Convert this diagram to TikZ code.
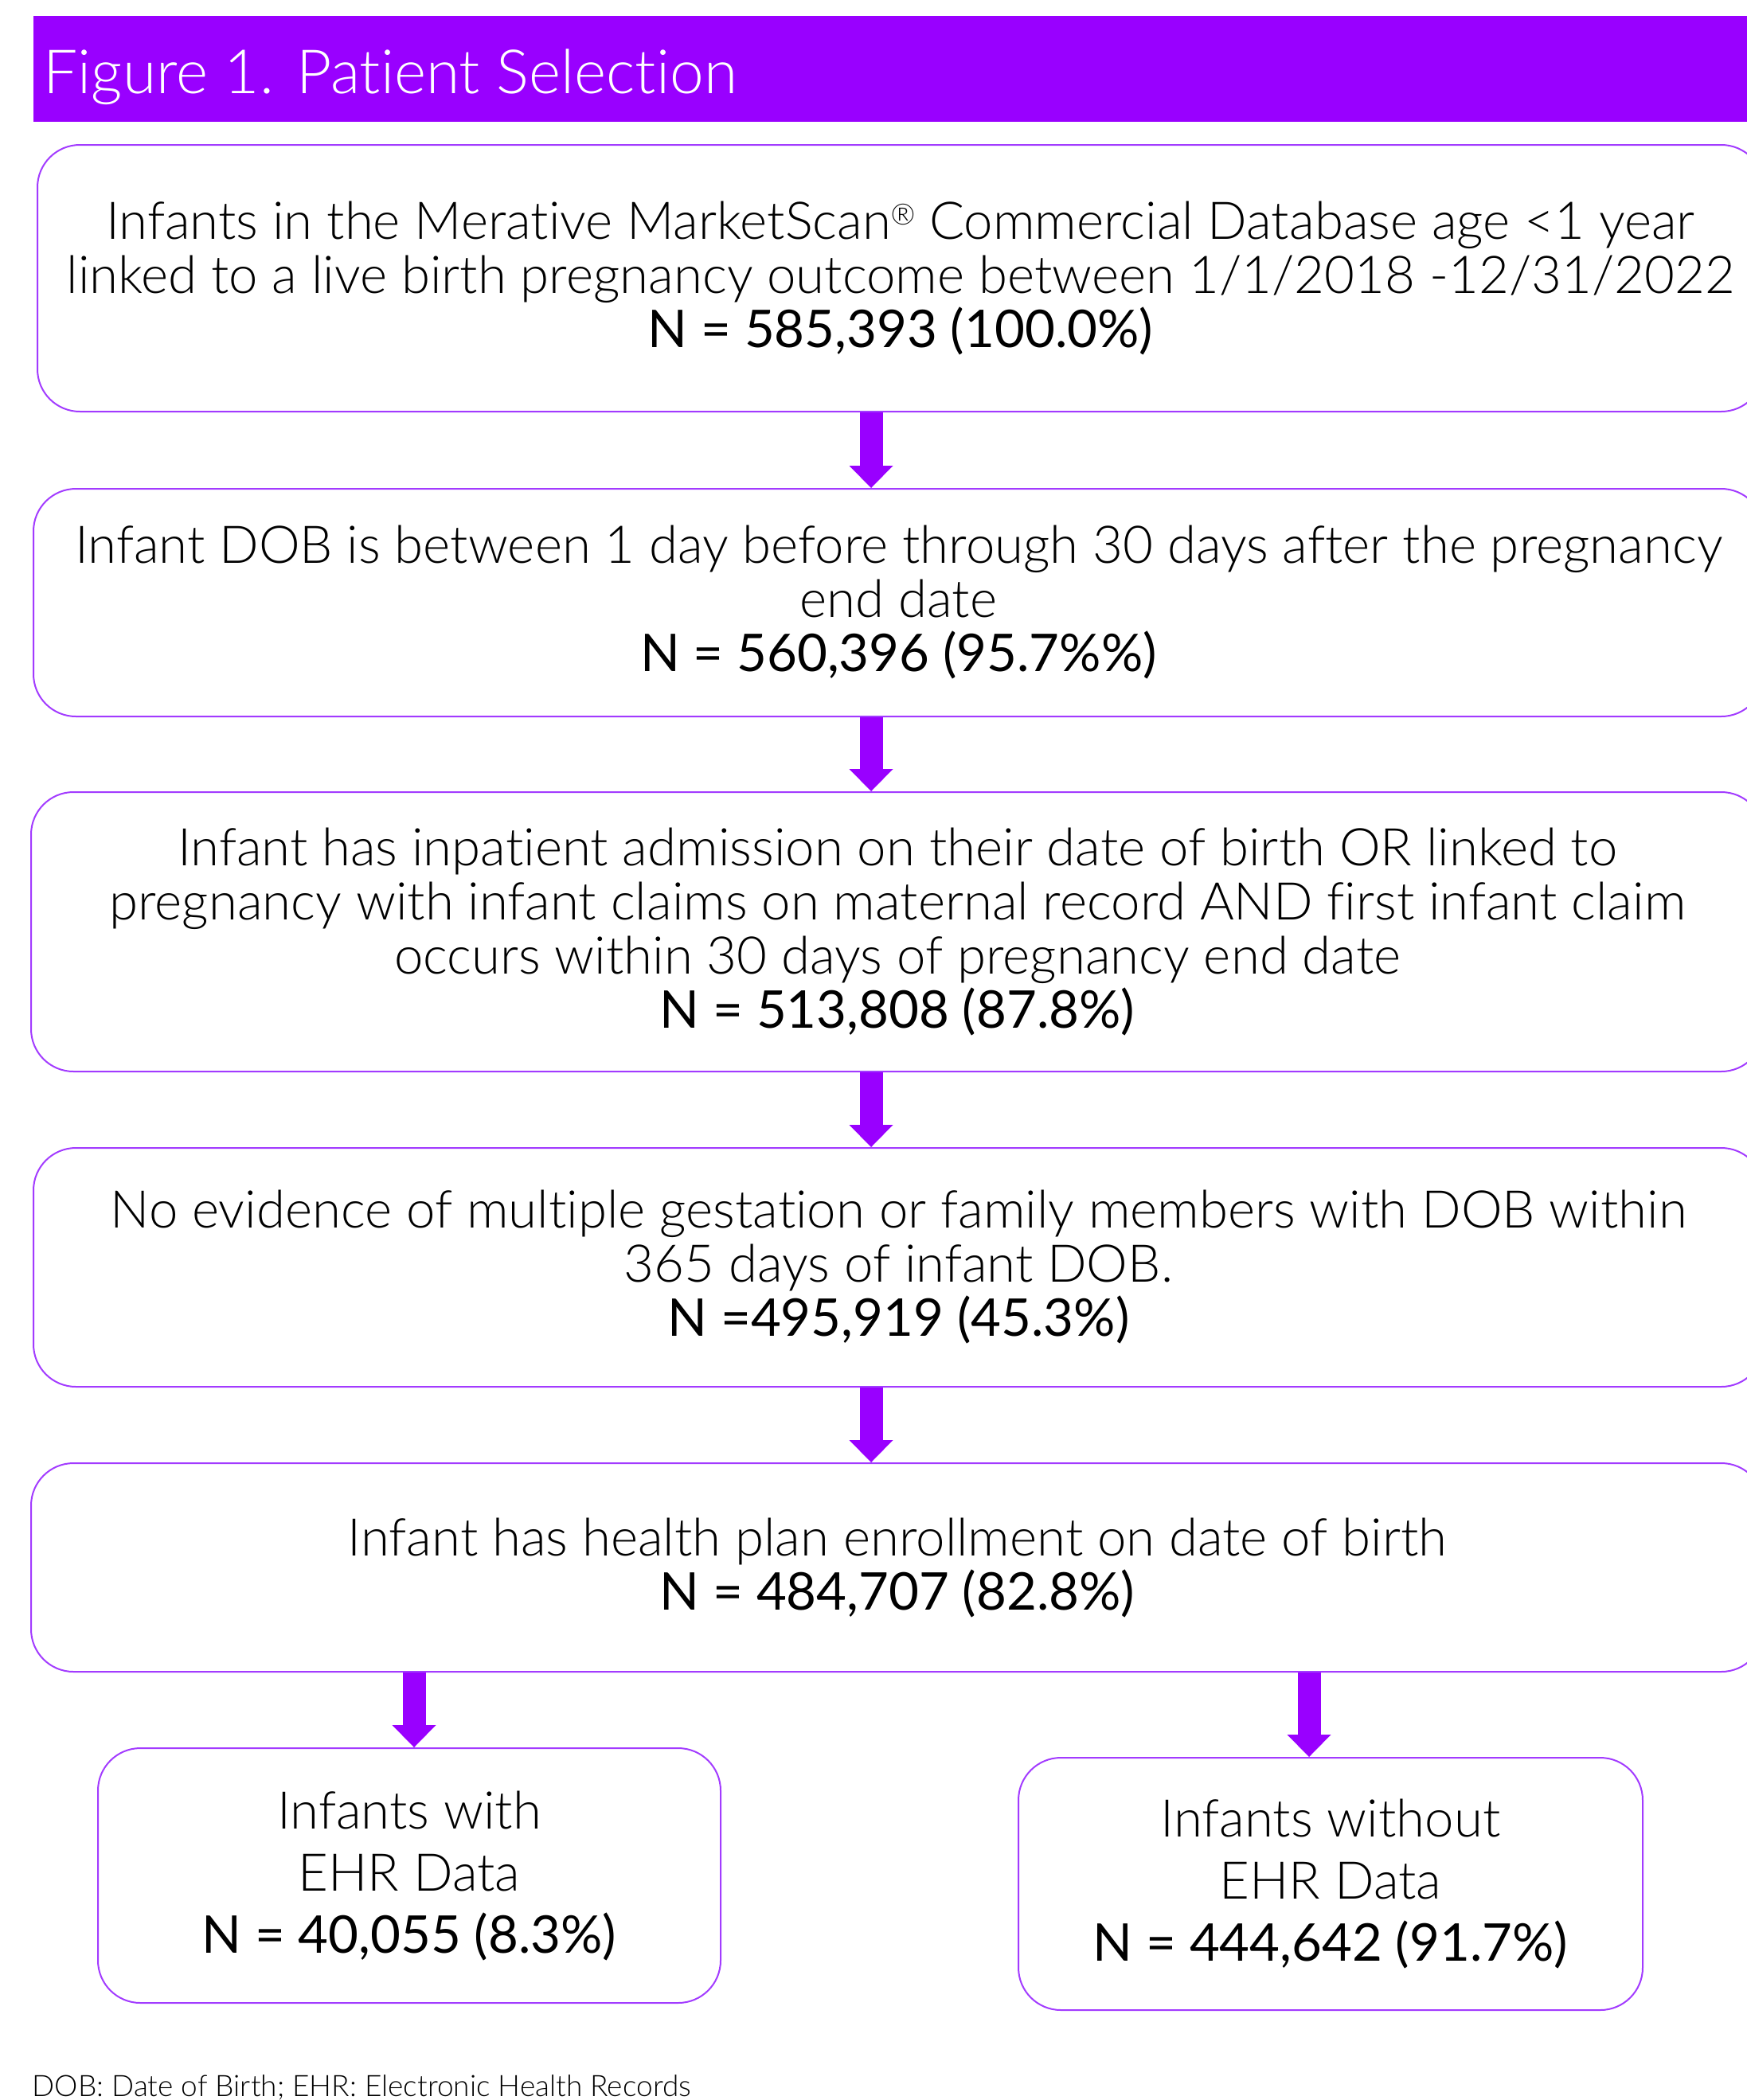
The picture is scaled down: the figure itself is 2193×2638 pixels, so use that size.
\documentclass[tikz,border=0pt]{standalone}
\usepackage{fontspec}
\usetikzlibrary{arrows.meta}
\setmainfont{Lato Light}[Ligatures={NoCommon}]
\newfontfamily\ltf{Lato Light}[Ligatures={NoCommon}]
\newfontfamily\rgf{Lato}[Ligatures={NoCommon}]
\definecolor{hdrc}{HTML}{9900FF}
\definecolor{boxc}{HTML}{A23BFF}
\definecolor{arrc}{HTML}{9900FF}
\begin{document}
\begin{tikzpicture}[x=0.3pt,y=-0.3pt,
  box/.style={draw=boxc, line width=0.6pt, rounded corners=16pt, align=center, inner sep=0pt,
    font=\fontsize{19.6}{20.4}\selectfont\ltf},
  smallbox/.style={box, font=\fontsize{19.6}{23.4}\selectfont\ltf},
  bigarrow/.style={draw=arrc, line width=8.7pt,
    -{Triangle[width=16.5pt,length=8.4pt,line width=0pt,fill=arrc]}},
  ]
\useasboundingbox (0,0) rectangle (2193,2638);
% header
\fill[hdrc] (42,20) rectangle (2200,153);
\node[anchor=base west, text=white, font=\fontsize{23}{24}\selectfont\ltf, inner sep=0pt] (title) at (54,118) {Figure 1. Patient Selection};
% boxes
\node[box, minimum width=650.4pt, minimum height=100.5pt] (b1) at (1131,349.5)
  {Infants in the Merative MarketScan\raisebox{0.55ex}{\fontsize{11}{11}\selectfont ®} Commercial Database age <1 year\\
   linked to a live birth pregnancy outcome between 1/1/2018 -12/31/2022\\
   {\rgf N = 585,393 (100.0\%)}};
\node[box, minimum width=651.9pt, minimum height=85.8pt] (b2) at (1128.5,757)
  {Infant DOB is between 1 day before through 30 days after the pregnancy\\
   end date\\
   {\rgf N = 560,396 (95.7\%\%)}};
\node[box, minimum width=652.8pt, minimum height=105.3pt] (b3) at (1127,1170.5)
  {Infant has inpatient admission on their date of birth OR linked to\\
   pregnancy with infant claims on maternal record AND first infant claim\\
   occurs within 30 days of pregnancy end date\\
   {\rgf N = 513,808 (87.8\%)}};
\node[box, minimum width=651.9pt, minimum height=90pt] (b4) at (1128.5,1592)
  {No evidence of multiple gestation or family members with DOB within\\
   365 days of infant DOB.\\
   {\rgf N =495,919 (45.3\%)}};
\node[box, minimum width=652.8pt, minimum height=78.6pt] (b5) at (1127,1969)
  {Infant has health plan enrollment on date of birth\\
   {\rgf N = 484,707 (82.8\%)}};
\node[smallbox, minimum width=234.6pt, minimum height=96pt] (b6) at (514,2356)
  {Infants with\\ EHR Data\\ {\rgf N = 40,055 (8.3\%)}};
\node[smallbox, minimum width=235.2pt, minimum height=95.1pt] (b7) at (1671,2366.5)
  {Infants without\\ EHR Data\\ {\rgf N = 444,642 (91.7\%)}};
% arrows
\coordinate (ax) at (1094,0);
\coordinate (lx) at (520,0);
\coordinate (rx) at (1644,0);
\draw[bigarrow] (ax |- b1.south) -- (ax |- b2.north);
\draw[bigarrow] (ax |- b2.south) -- (ax |- b3.north);
\draw[bigarrow] (ax |- b3.south) -- (ax |- b4.north);
\draw[bigarrow] (ax |- b4.south) -- (ax |- b5.north);
\draw[bigarrow] (lx |- b5.south) -- (lx |- b6.north);
\draw[bigarrow] (rx |- b5.south) -- (rx |- b7.north);
% footnote
\node[anchor=base west, inner sep=0pt, font=\fontsize{11.1}{12}\selectfont\ltf] (foot) at (40,2633)
  {DOB: Date of Birth; EHR: Electronic Health Records};
\end{tikzpicture}
\end{document}
